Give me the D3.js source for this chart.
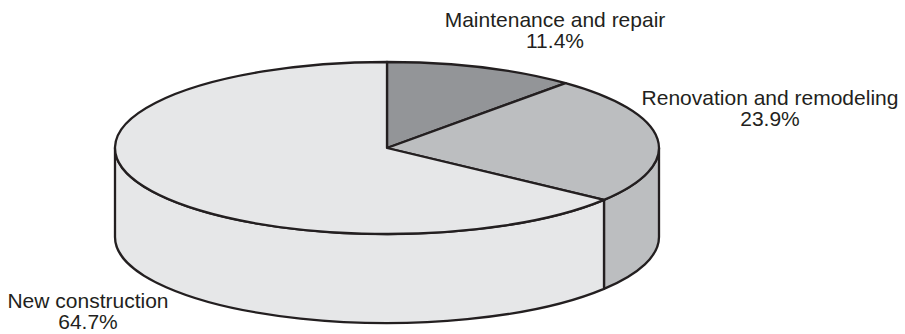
<!DOCTYPE html>
<html>
<head>
<meta charset="utf-8">
<script src="https://cdn.jsdelivr.net/npm/d3@7"></script>
<style>
  body { margin: 0; background: #fff; }
  text { font-family: "Liberation Sans", Arial, Helvetica, sans-serif; fill: #231f20; }
</style>
</head>
<body>
<svg id="chart" width="905" height="334"></svg>
<script>
// data
const categories = ["Maintenance and repair", "Renovation and remodeling", "New construction"];
const shares = [11.4, 23.9, 64.7];
const colors = ["#939598", "#bcbec0", "#e6e7e8"];

// geometry of the tilted pie
const cx = 387, cy = 148, rx = 272, ry = 86, depth = 89;

// where each label block is centred (top line baseline)
const labelPos = [[555, 27], [770, 105], [88, 308]];
const lineGap = 21;

const svg = d3.select("#chart");

const pie = d3.pie().sort(null).value(d => d)(shares);

let pt = (a, dy) => [cx + rx * Math.sin(a), cy - ry * Math.cos(a) + (dy || 0)];

let topPath = d => {
    const p0 = pt(d.startAngle), p1 = pt(d.endAngle);
    const large = d.endAngle - d.startAngle > Math.PI ? 1 : 0;
    return `M${cx},${cy}L${p0}A${rx},${ry} 0 ${large} 1 ${p1}Z`;
};

// only the front half (pi/2 .. 3pi/2) of the rim is visible
let wallPath = d => {
    const s = Math.max(d.startAngle, Math.PI / 2);
    const e = Math.min(d.endAngle, 3 * Math.PI / 2);
    if (e <= s) return null;
    const a = pt(s), b = pt(e), c = pt(e, depth), f = pt(s, depth);
    return `M${a}A${rx},${ry} 0 0 1 ${b}L${c}A${rx},${ry} 0 0 0 ${f}Z`;
};

const g = svg.append("g");

g.selectAll(".wall")
    .data(pie.filter(d => wallPath(d)))
    .enter()
    .append("path")
    .attr("class", "wall")
    .attr("d", wallPath)
    .style("fill", d => colors[d.index])
    .style("stroke", "#231f20")
    .style("stroke-width", 2.3)
    .style("stroke-linejoin", "round");

g.selectAll(".slice")
    .data(pie)
    .enter()
    .append("path")
    .attr("class", "slice")
    .attr("d", topPath)
    .style("fill", d => colors[d.index])
    .style("stroke", "#231f20")
    .style("stroke-width", 2.3)
    .style("stroke-linejoin", "round");

// labels
const labels = svg.selectAll(".label")
    .data(categories)
    .enter()
    .append("text")
    .attr("class", "label")
    .attr("text-anchor", "middle")
    .style("font-size", "21px");

labels.append("tspan")
    .attr("x", (d, i) => labelPos[i][0])
    .attr("y", (d, i) => labelPos[i][1])
    .text(d => d);

labels.append("tspan")
    .attr("x", (d, i) => labelPos[i][0])
    .attr("y", (d, i) => labelPos[i][1] + lineGap)
    .text((d, i) => shares[i].toFixed(1) + "%");
</script>
</body>
</html>
